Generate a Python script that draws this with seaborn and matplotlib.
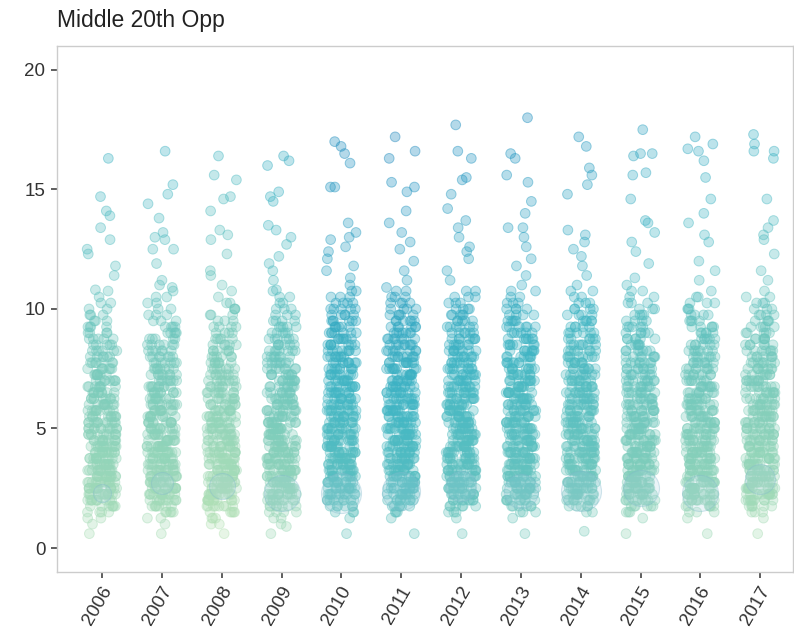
import numpy as np
import pandas as pd
import matplotlib.pyplot as plt
import seaborn as sns
from matplotlib import colormaps
from matplotlib.transforms import ScaledTranslation

years = ["2006", "2007", "2008", "2009", "2010", "2011",
         "2012", "2013", "2014", "2015", "2016", "2017"]

# dense body of each column: values (read to the nearest 0.25) and how many players sit at each
levels = [1.0, 1.25, 1.5, 1.75, 2.0, 2.25, 2.5, 2.75, 3.0, 3.25, 3.5, 3.75, 4.0, 4.25,
          4.5, 4.75, 5.0, 5.25, 5.5, 5.75, 6.0, 6.25, 6.5, 6.75, 7.0, 7.25, 7.5, 7.75,
          8.0, 8.25, 8.5, 8.75, 9.0, 9.25, 9.5, 9.75, 10.0, 10.25, 10.5, 10.75]

counts_2006 = [1, 2, 4, 7, 10, 12, 13, 13, 13, 13, 12, 12, 12, 12, 11, 11, 11, 11, 10, 10,
               10, 9, 9, 8, 8, 8, 7, 7, 6, 6, 5, 5, 4, 4, 3, 3, 2, 2, 1, 1]
counts_2007 = [1, 2, 5, 7, 10, 12, 12, 13, 13, 13, 12, 12, 12, 12, 11, 11, 11, 10, 10, 10,
               10, 9, 9, 9, 8, 8, 8, 7, 7, 6, 6, 5, 5, 4, 3, 3, 2, 2, 2, 1]
counts_2008 = [2, 3, 5, 8, 11, 13, 13, 13, 13, 12, 12, 12, 12, 12, 11, 11, 11, 10, 10, 10,
               9, 9, 9, 8, 8, 8, 7, 7, 6, 6, 5, 5, 4, 4, 3, 3, 3, 2, 1, 1]
counts_2009 = [1, 2, 4, 7, 10, 12, 12, 13, 13, 12, 12, 12, 12, 12, 11, 11, 11, 11, 10, 10,
               10, 10, 9, 9, 9, 8, 8, 8, 7, 7, 6, 6, 5, 5, 4, 3, 3, 2, 2, 1]
counts_2010 = [0, 1, 3, 6, 9, 11, 12, 12, 12, 12, 12, 12, 12, 12, 12, 11, 11, 11, 11, 11,
               10, 10, 10, 10, 9, 9, 9, 9, 8, 8, 8, 7, 7, 6, 6, 5, 5, 4, 3, 2]
counts_2011 = [0, 1, 3, 6, 9, 11, 12, 12, 12, 12, 12, 12, 12, 12, 12, 12, 11, 11, 11, 11,
               11, 10, 10, 10, 10, 9, 9, 9, 9, 8, 8, 7, 7, 6, 6, 5, 4, 4, 3, 2]
counts_2012 = [0, 1, 3, 6, 9, 11, 12, 12, 12, 12, 12, 12, 12, 12, 11, 11, 11, 11, 11, 10,
               10, 10, 10, 10, 9, 9, 9, 8, 8, 8, 7, 7, 6, 6, 5, 5, 4, 3, 3, 2]
counts_2013 = [0, 1, 3, 6, 9, 11, 12, 12, 12, 12, 12, 12, 12, 11, 11, 11, 11, 11, 10, 10,
               10, 10, 10, 9, 9, 9, 9, 8, 8, 8, 7, 7, 6, 6, 5, 4, 4, 3, 2, 2]
counts_2014 = [0, 0, 2, 5, 9, 11, 12, 12, 12, 12, 12, 12, 12, 12, 11, 11, 11, 11, 10, 10,
               10, 10, 10, 9, 9, 9, 8, 8, 8, 7, 7, 6, 6, 5, 5, 4, 4, 3, 2, 2]
counts_2015 = [0, 1, 3, 6, 9, 11, 12, 12, 12, 12, 12, 12, 12, 11, 11, 11, 11, 10, 10, 10,
               10, 9, 9, 9, 9, 8, 8, 8, 7, 7, 6, 6, 5, 5, 4, 4, 3, 3, 2, 2]
counts_2016 = [0, 1, 3, 6, 10, 12, 12, 12, 12, 12, 12, 12, 12, 11, 11, 11, 11, 10, 10, 10,
               10, 9, 9, 9, 8, 8, 8, 8, 7, 7, 6, 6, 5, 5, 4, 4, 3, 3, 2, 1]
counts_2017 = [0, 1, 3, 6, 10, 12, 12, 12, 12, 12, 12, 12, 11, 11, 11, 11, 11, 10, 10, 10,
               10, 9, 9, 9, 9, 8, 8, 8, 7, 7, 6, 6, 5, 5, 4, 4, 3, 3, 2, 1]

# scattered points outside the dense body (low outlier and upper tail)
tail_2006 = [0.6, 10.8, 11.4, 11.8, 12.3, 12.5, 12.9, 13.4, 13.9, 14.1, 14.7, 16.3]
tail_2007 = [0.6, 10.9, 11.0, 11.2, 11.9, 12.5, 12.5, 12.9, 13.0, 13.2, 13.8, 14.4, 14.8,
             15.2, 16.6]
tail_2008 = [0.6, 11.0, 11.4, 11.6, 12.3, 12.9, 13.1, 13.3, 14.1, 14.6, 14.7, 15.4, 15.6,
             16.4]
tail_2009 = [0.6, 0.9, 10.8, 11.2, 11.6, 11.9, 12.2, 12.7, 13.0, 13.3, 13.5, 14.5, 14.7,
             14.9, 16.0, 16.2, 16.4]
tail_2010 = [0.6, 11.0, 11.3, 11.6, 11.8, 12.1, 12.4, 12.6, 12.9, 13.0, 13.2, 13.6, 15.1,
             15.1, 16.1, 16.5, 16.8, 17.0]
tail_2011 = [0.6, 10.9, 11.2, 11.6, 12.0, 12.5, 12.8, 13.2, 13.6, 14.1, 14.9, 15.1, 15.3,
             16.3, 16.6, 17.2]
tail_2012 = [0.6, 11.2, 11.6, 12.1, 12.4, 12.6, 13.0, 13.4, 13.7, 14.2, 14.8, 15.4, 15.5,
             16.3, 16.6, 17.7]
tail_2013 = [0.6, 11.0, 11.4, 11.8, 12.1, 12.6, 13.0, 13.4, 13.4, 14.0, 14.5, 15.3, 15.6,
             16.3, 16.5, 18.0]
tail_2014 = [0.7, 11.0, 11.4, 11.8, 12.2, 12.5, 12.8, 13.1, 13.3, 14.8, 15.2, 15.6, 15.9,
             16.8, 17.2]
tail_2015 = [0.6, 11.0, 11.3, 11.9, 12.4, 12.8, 13.2, 13.6, 13.7, 14.6, 15.6, 15.7, 16.4,
             16.5, 16.5, 17.5]
tail_2016 = [0.6, 11.2, 11.6, 12.0, 12.8, 13.1, 13.6, 14.0, 14.6, 15.5, 16.2, 16.6, 16.7,
             16.9, 17.2]
tail_2017 = [0.6, 11.2, 11.6, 12.3, 12.9, 13.1, 13.4, 13.7, 14.6, 16.3, 16.6, 16.6, 16.9,
             17.3]

# the few heavy-weight points drawn as big circles near the bottom
big_vals = [2.3, 2.7, 2.6, 2.3, 2.3, 2.4, 2.6, 2.4, 2.4, 2.5, 2.3, 2.9]
big_weight = [18, 22, 26, 36, 40, 38, 30, 34, 40, 36, 36, 30]

all_counts = [counts_2006, counts_2007, counts_2008, counts_2009, counts_2010, counts_2011,
              counts_2012, counts_2013, counts_2014, counts_2015, counts_2016, counts_2017]
all_tails = [tail_2006, tail_2007, tail_2008, tail_2009, tail_2010, tail_2011,
             tail_2012, tail_2013, tail_2014, tail_2015, tail_2016, tail_2017]

frames = []
for yr, cnt, tail in zip(years, all_counts, all_tails):
    vals = np.concatenate([np.repeat(levels, cnt), tail])
    frames.append(pd.DataFrame({"year": yr, "value": vals}))
df = pd.concat(frames, ignore_index=True)
big_df = pd.DataFrame({"year": years, "value": big_vals})

# colour tone per season (0 = greenish, 1 = bluish)
year_tone = np.array([0.2, 0.2, 0.1, 0.3, 0.8, 0.85, 0.75, 0.7, 0.6, 0.4, 0.3, 0.2])
cmap = colormaps["YlGnBu"]

sns.set_theme(style="white")
plt.rcParams["font.family"] = ["Liberation Sans", "DejaVu Sans"]

fig = plt.figure(figsize=(7.94, 6.39), dpi=100)
ax = fig.add_axes([0.072, 0.105, 0.927, 0.823])

np.random.seed(11)
sns.stripplot(data=df, x="year", y="value", order=years, jitter=0.25,
              size=7.0, color="#7fcdbb", ax=ax, zorder=2)
n_pts = len(ax.collections)
for coll in ax.collections:
    offs = coll.get_offsets()
    xi = np.rint(offs[:, 0]).astype(int)
    pos = 0.25 + year_tone[xi] * 0.2 + offs[:, 1] / 18 * 0.24
    face = cmap(pos)
    edge = face.copy()
    face[:, 3] = 0.33
    edge[:, 3] = 0.45
    coll.set_facecolor(face)
    coll.set_edgecolor(edge)
    coll.set_linewidth(0.7)

# big circles on top, faint enough to let the columns show through
sns.stripplot(data=big_df, x="year", y="value", order=years, jitter=0.3,
              size=20, color="#7fbcd2", ax=ax, zorder=3)
for coll in ax.collections[n_pts:]:
    xi = np.rint(coll.get_offsets()[:, 0]).astype(int)
    d = np.array(big_weight)[xi] * 0.72
    coll.set_sizes(d ** 2)
    coll.set_facecolor((0.62, 0.8, 0.87, 0.2))
    coll.set_edgecolor((0.5, 0.72, 0.8, 0.35))
    coll.set_linewidth(0.8)

ax.set_ylim(-1, 21)
ax.set_xlim(-0.75, 11.55)
ax.set_yticks([0, 5, 10, 15, 20])
ax.set_xlabel("")
ax.set_ylabel("")
for s in ax.spines.values():
    s.set_color("#cccccc")
    s.set_linewidth(1)
ax.tick_params(axis="both", colors="#333333", labelsize=13.5, length=4.5,
               width=1.1, pad=4, bottom=True, left=True)
shift = ScaledTranslation(6 / 100, -4 / 100, fig.dpi_scale_trans)
for lab in ax.get_xticklabels():
    lab.set_rotation(60)
    lab.set_ha("right")
    lab.set_va("center")
    lab.set_rotation_mode("anchor")
    lab.set_transform(lab.get_transform() + shift)

fig.text(0.072, 0.968, "Middle 20th Opp", fontsize=16.5, color="#222222", va="center")

fig.savefig("out.png", dpi=100)
plt.close()
